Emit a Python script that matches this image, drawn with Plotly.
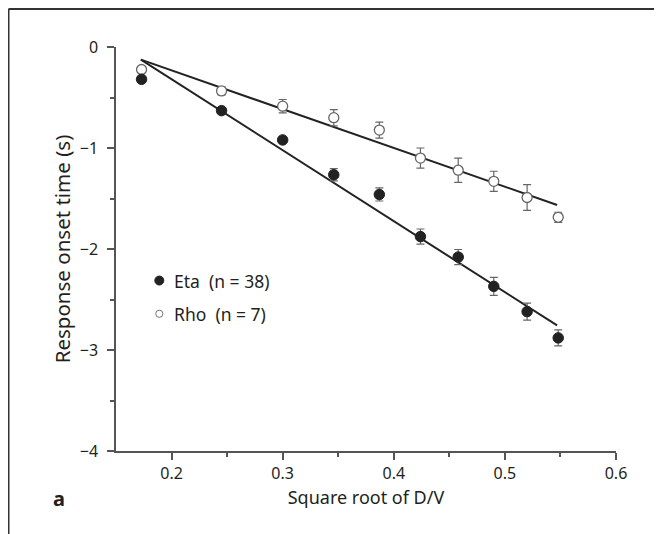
import plotly.graph_objects as go

# ---- data ----
x_vals = [0.173, 0.245, 0.300, 0.346, 0.387, 0.424, 0.458, 0.490, 0.520, 0.548]
eta_y = [-0.32, -0.63, -0.92, -1.265, -1.46, -1.877, -2.08, -2.37, -2.62, -2.88]
eta_err = [0.03, 0.03, 0.03, 0.06, 0.065, 0.075, 0.075, 0.09, 0.085, 0.08]
rho_y = [-0.223, -0.435, -0.586, -0.70, -0.823, -1.10, -1.22, -1.33, -1.49, -1.686]
rho_err = [0.03, 0.04, 0.066, 0.08, 0.08, 0.10, 0.12, 0.10, 0.127, 0.05]

fit_x = [0.1724, 0.547]
eta_fit = [-0.125, -2.757]
rho_fit = [-0.125, -1.564]

x_ticks = [0.2, 0.3, 0.4, 0.5, 0.6]
y_ticks = [0, -1, -2, -3, -4]

legend_labels = ["Eta\u00a0\u00a0(n = 38)", "Rho\u00a0\u00a0(n = 7)"]

FONT = "Noto Sans"
TXT = "#231f20"
AX = "#555555"

# the page adds an 8 px body margin; figure coordinates below are page - 8
OFF = 8
W, H = 662 - OFF, 534 - OFF

fig = go.Figure()

fig.add_trace(go.Scatter(x=fit_x, y=eta_fit, mode="lines",
                         line=dict(color="#222222", width=2), showlegend=False,
                         hoverinfo="skip"))
fig.add_trace(go.Scatter(x=fit_x, y=rho_fit, mode="lines",
                         line=dict(color="#222222", width=2), showlegend=False,
                         hoverinfo="skip"))

fig.add_trace(go.Scatter(
    x=x_vals, y=rho_y, mode="markers", name=legend_labels[1],
    marker=dict(size=10, color="white", line=dict(color="#666666", width=1.3)),
    error_y=dict(type="data", array=rho_err, visible=True, color="#666666",
                 thickness=1.2, width=4),
    showlegend=False, cliponaxis=False))

fig.add_trace(go.Scatter(
    x=x_vals, y=eta_y, mode="markers", name=legend_labels[0],
    marker=dict(size=10.5, color="#222222", line=dict(color="#222222", width=1)),
    error_y=dict(type="data", array=eta_err, visible=True, color="#666666",
                 thickness=1.2, width=4),
    showlegend=False, cliponaxis=False))

plot_top, plot_bottom, plot_left, plot_w = 46.7, 451.5, 116, 500
ph = plot_bottom - plot_top


def px2x(px):
    return (px - plot_left) / plot_w


def py2y(py):
    return (plot_bottom - py) / ph


# legend drawn manually (page pixel positions)
leg_items = [(legend_labels[0], "#222222", "#222222", 4.5, 280.7),
             (legend_labels[1], "white", "#777777", 3.6, 314.0)]
for label, fill, edge, r, py in leg_items:
    fig.add_shape(type="circle", xref="paper", yref="paper",
                  xsizemode="pixel", ysizemode="pixel",
                  xanchor=px2x(159.3), yanchor=py2y(py), x0=-r, x1=r, y0=-r, y1=r,
                  fillcolor=fill, line=dict(color=edge, width=1))
    fig.add_annotation(x=px2x(172), y=py2y(py), xref="paper", yref="paper",
                       text=label, showarrow=False, xanchor="left", yanchor="middle",
                       font=dict(family=FONT, size=17.5, color=TXT))

# panel label
fig.add_annotation(x=px2x(59), y=py2y(499), xref="paper", yref="paper",
                   text="<b>a</b>", showarrow=False, xanchor="center", yanchor="middle",
                   font=dict(family=FONT, size=20, color=TXT))

# frame: top and left border (at the very edge of the figure)
fig.add_shape(type="line", xref="paper", yref="paper",
              x0=px2x(OFF + 0.5), x1=px2x(700), y0=py2y(OFF + 0.5), y1=py2y(OFF + 0.5),
              line=dict(color="#333333", width=2))
fig.add_shape(type="line", xref="paper", yref="paper",
              x0=px2x(OFF + 0.5), x1=px2x(OFF + 0.5), y0=py2y(OFF + 0.5), y1=py2y(560),
              line=dict(color="#333333", width=2))

fig.update_layout(
    width=W, height=H,
    margin=dict(l=plot_left - OFF, r=W - (plot_left - OFF) - plot_w,
                t=plot_top - OFF, b=H - (plot_bottom - OFF), autoexpand=False),
    paper_bgcolor="white", plot_bgcolor="white",
    font=dict(family=FONT, size=16, color=TXT),
    showlegend=False,
    xaxis=dict(range=[0.15, 0.6], tickvals=x_ticks, ticktext=[f"{v:.1f}" for v in x_ticks],
               automargin=False,
               showgrid=False, zeroline=False, showline=True, linecolor=AX, linewidth=1.5,
               ticks="outside", ticklen=7, tickwidth=1.5, tickcolor=AX,
               minor=dict(tickvals=[0.25, 0.35, 0.45, 0.55], ticks="outside", ticklen=4,
                          tickwidth=1.5, tickcolor=AX),
               title=dict(text="Square root of D/V", standoff=8,
                          font=dict(family=FONT, size=18, color=TXT)),
               tickfont=dict(family=FONT, size=16, color=TXT)),
    yaxis=dict(range=[-4, 0], tickvals=y_ticks, ticktext=["0", "\u22121", "\u22122", "\u22123", "\u22124"],
               automargin=False, ticklabelstandoff=6,
               showgrid=False, zeroline=False, showline=True, linecolor=AX, linewidth=1.5,
               ticks="outside", ticklen=7, tickwidth=1.5, tickcolor=AX,
               minor=dict(tickvals=[-0.5, -1.5, -2.5, -3.5], ticks="outside", ticklen=4,
                          tickwidth=1.5, tickcolor=AX),
               title=dict(text="Response onset time (s)", standoff=4,
                          font=dict(family=FONT, size=20.5, color=TXT)),
               tickfont=dict(family=FONT, size=16, color=TXT)),
)

fig.write_html("out.html")
